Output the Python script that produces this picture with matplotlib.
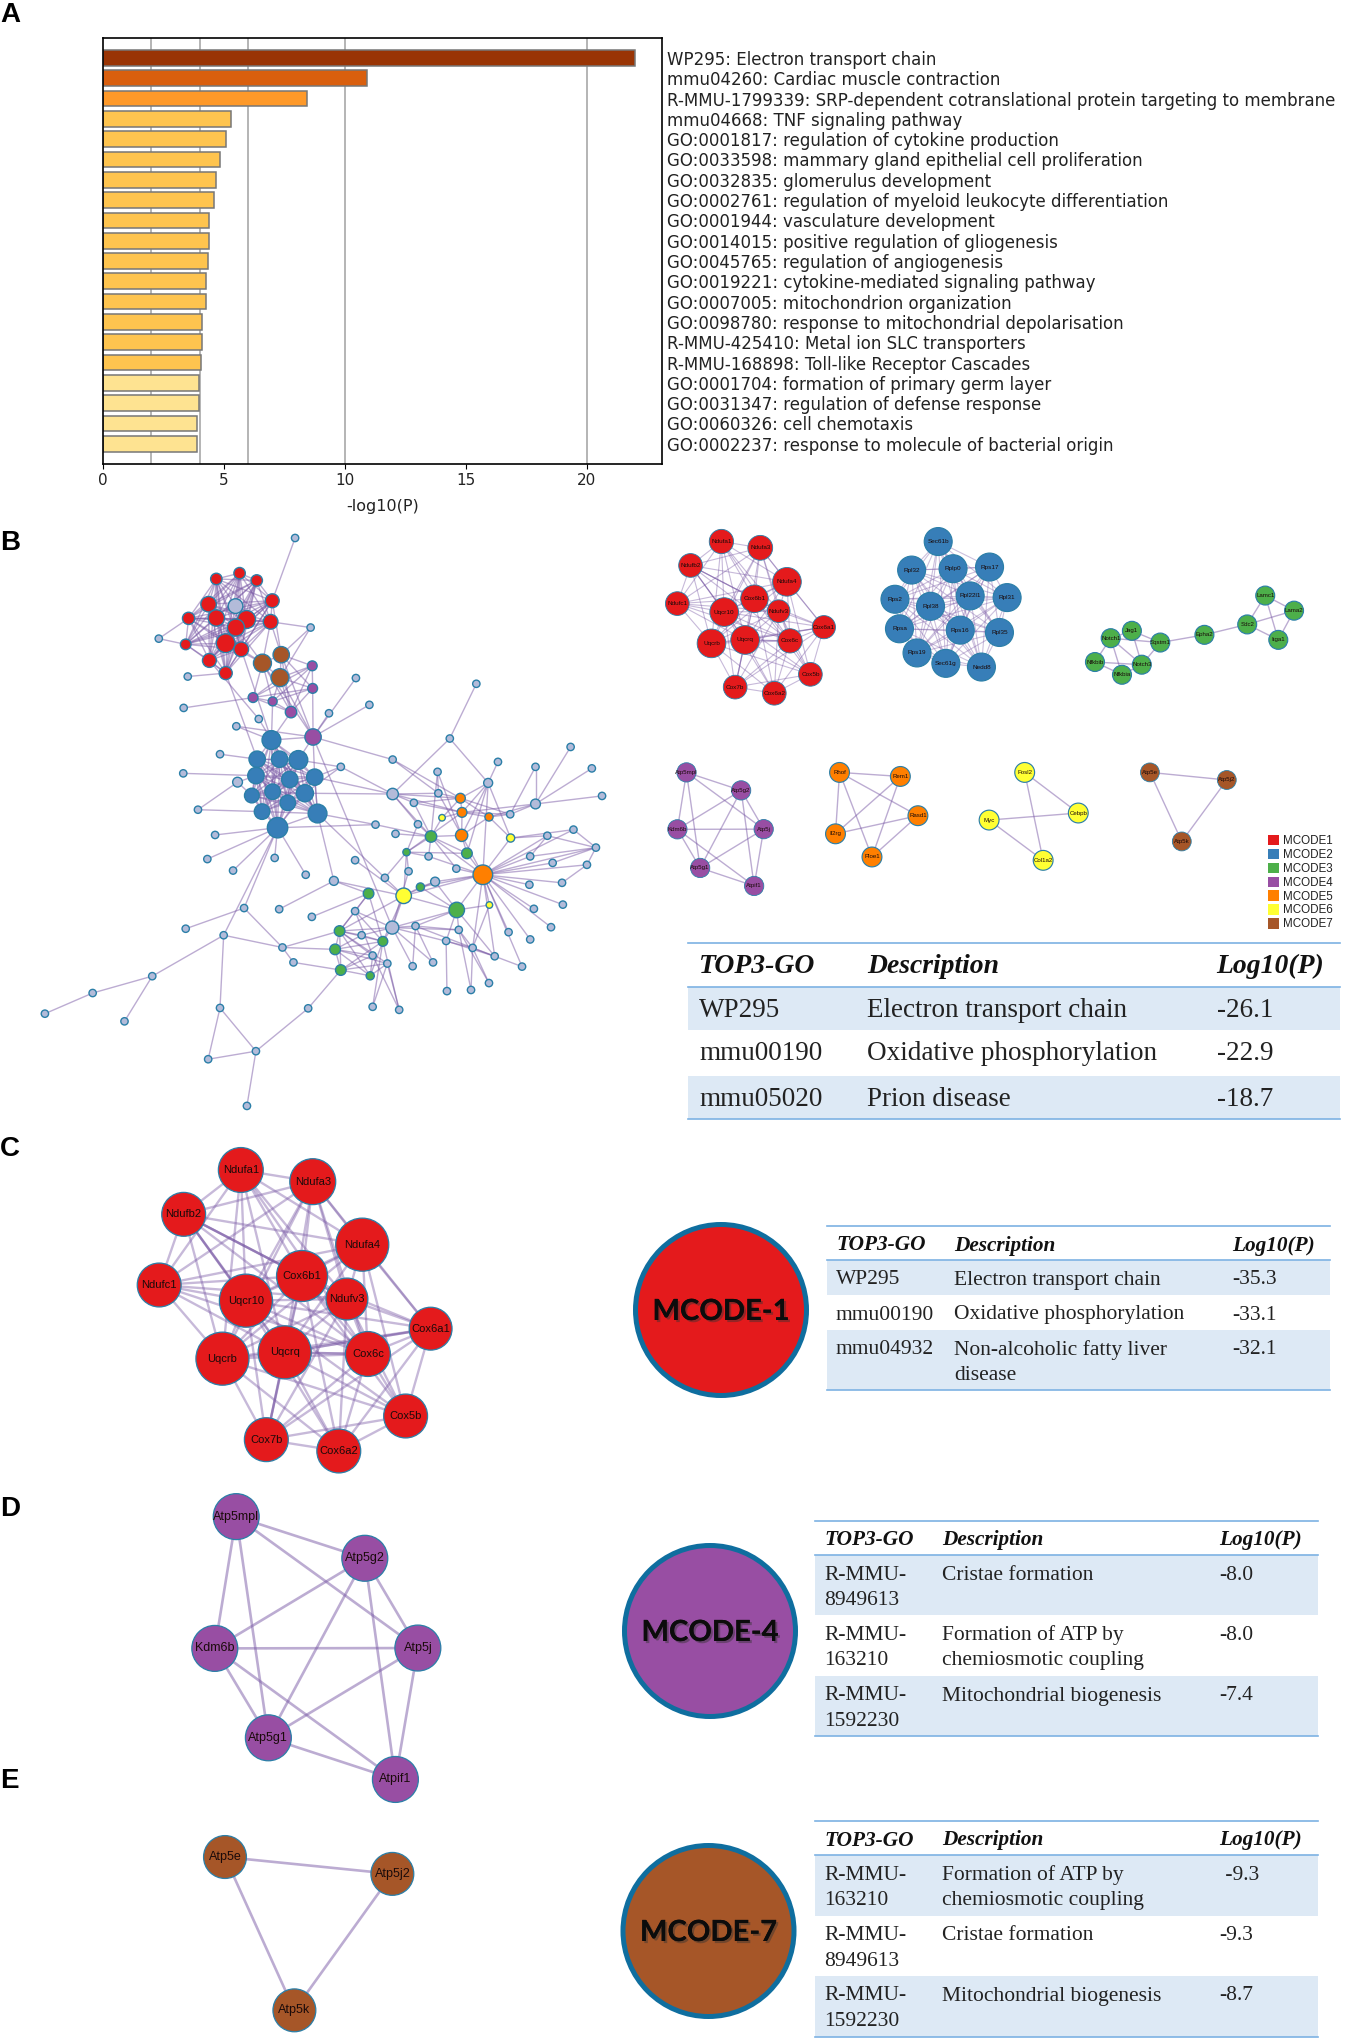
import itertools
import matplotlib
matplotlib.use('Agg')
import matplotlib.pyplot as plt
import matplotlib.patheffects as pe
from matplotlib.collections import LineCollection
from matplotlib.patches import Circle, Patch, Rectangle

W, H = 1346, 2043
SERIF = 'Liberation Serif'
SANS = 'Liberation Sans'
EDGE = '#7a5aa6'
RING = '#2b7fa8'
COLORS = {'R': '#e41a1c', 'B': '#377eb8', 'G': '#4daf4a', 'P': '#984ea3',
          'O': '#ff7f00', 'Y': '#ffff33', 'W': '#a65628', 'n': '#b3bbd9'}

# panel A
terms = ['WP295: Electron transport chain', 'mmu04260: Cardiac muscle contraction',
         'R-MMU-1799339: SRP-dependent cotranslational protein targeting to membrane',
         'mmu04668: TNF signaling pathway', 'GO:0001817: regulation of cytokine production',
         'GO:0033598: mammary gland epithelial cell proliferation', 'GO:0032835: glomerulus development',
         'GO:0002761: regulation of myeloid leukocyte differentiation', 'GO:0001944: vasculature development',
         'GO:0014015: positive regulation of gliogenesis', 'GO:0045765: regulation of angiogenesis',
         'GO:0019221: cytokine-mediated signaling pathway', 'GO:0007005: mitochondrion organization',
         'GO:0098780: response to mitochondrial depolarisation', 'R-MMU-425410: Metal ion SLC transporters',
         'R-MMU-168898: Toll-like Receptor Cascades', 'GO:0001704: formation of primary germ layer',
         'GO:0031347: regulation of defense response', 'GO:0060326: cell chemotaxis',
         'GO:0002237: response to molecule of bacterial origin']
logp = [22.0, 10.9, 8.45, 5.3, 5.1, 4.85, 4.65, 4.6, 4.4, 4.4, 4.35, 4.25, 4.25, 4.1, 4.1, 4.05, 3.95, 3.95, 3.9, 3.9]
bar_colors = ['#993404', '#d95f0e', '#fe9929'] + ['#fec44f'] * 13 + ['#fee391'] * 4
grid_x = [2, 4, 6, 10, 20]

# panel B main network, layout units from the picture
main_nodes = {
    'R': [(530,154,14),(587,139,14),(629,158,14),(511,220,19),(667,211,17),(530,256,20),(604,260,22),(462,257,15),
          (663,266,18),(578,281,21),(455,325,13),(553,322,23),(591,338,18),(513,367,17),(553,400,16)],
    'W': [(643,374,22),(689,352,20),(686,412,22)],
    'P': [(765,381,12),(766,440,12),(620,464,12),(668,474,11),(713,502,14),(767,567,20)],
    'B': [(665,575,23),(630,625,20),(685,625,20),(731,627,23),(627,668,20),(710,678,20),(771,672,20),(617,720,18),
          (668,710,19),(747,714,21),(705,739,19),(642,762,19),(778,767,23),(680,804,25)],
    'G': [(1056,827,14),(996,868,9),(1144,871,13),(1030,959,10),(903,976,13),(1119,1019,19),(832,1074,13),(821,1122,13),
          (938,1101,12),(835,1176,13),(907,1191,10)],
    'O': [(1128,727,12),(1132,764,12),(1198,776,10),(1131,824,15),(1183,927,24)],
    'Y': [(1083,778,8),(1251,831,10),(989,982,19),(1199,1006,8)],
    'n': [(723,47,9),(389,310,9),(761,281,9),(460,409,9),(872,413,9),(450,491,9),(1167,428,9),(905,483,9),(806,505,9),
          (634,520,9),(579,539,9),(1102,571,9),(539,612,9),(835,645,9),(962,626,9),(1220,632,9),(1072,658,9),(1312,645,9),
          (1398,593,9),(1450,649,9),(1475,721,9),(449,662,9),(1196,687,11),(962,716,14),(1074,714,9),(1014,739,9),
          (1312,742,12),(1250,769,9),(485,757,9),(920,796,9),(1024,795,9),(527,823,9),(969,820,9),(1405,809,9),(1341,825,9),
          (1460,856,9),(508,886,9),(673,883,9),(1050,879,9),(1299,879,9),(1354,896,9),(1438,901,9),(571,916,9),(870,889,9),
          (1118,911,9),(1001,918,9),(749,927,9),(818,943,11),(943,935,9),(1066,945,11),(1297,953,9),(1377,948,9),(1379,1005,9),
          (684,1017,9),(598,1014,9),(764,1037,9),(870,1022,9),(1308,1016,9),(1018,1061,9),(961,1065,16),(1350,1064,9),
          (455,1068,9),(886,1085,9),(1124,1071,9),(1246,1077,9),(548,1085,9),(1093,1100,9),(1299,1096,9),(692,1117,9),
          (913,1138,9),(1158,1118,9),(1212,1140,9),(719,1156,9),(949,1159,9),(1011,1166,9),(1061,1156,9),(1279,1167,9),
          (373,1192,9),(227,1236,9),(1198,1210,9),(1095,1231,9),(1154,1228,9),(110,1290,9),(305,1310,9),(539,1275,9),
          (755,1276,9),(913,1272,9),(978,1280,9),(627,1388,9),(510,1409,9),(605,1531,9),(582,685,12),(577,225,18)],
}
main_edges = """n0-R4 n1-R7 n1-R10 n2-W1 n2-W2 n2-R8 n3-R14 n5-P2 n4-P5 n7-P5 n8-P5 n6-n11 n9-B0 n9-R13 n10-B0 n10-P5 R14-B1 R12-B0
W0-P2 W0-P3 W0-P4 W1-P0 W1-P1 W2-P0 W2-P1 W2-P2 W2-P3 W2-P4 W2-P5 W1-P4 W0-P5 W1-P5 R11-W0 R12-W0 R8-W1 R8-W0 R9-W0 R4-W1
P1-P5 P5-B0 P4-B0 P3-B0 P5-B3 P5-B6 P5-n14 P5-n59 n12-B1 n13-B3 n13-B6 n13-B9 n13-n23 n21-B4 n91-B4 n91-B7 n91-n28 n28-B11
n31-B13 n36-B13 n42-B13 n37-B13 n46-B13 n54-B13 n65-B13 B6-n23 B9-n23 B13-n29 B12-n29 B12-n47 B12-n48 B6-B12
n47-n53 n47-G4 n47-Y2 n11-n23 n11-n22 n14-n24 n14-O0 n23-n24 n23-O0 n23-n25 n23-n30 n23-G0 n23-O1
n16-n24 n16-G0 n16-O3 n24-O3 n24-O0 n25-O0 n25-G0 n25-O1 n22-n15 n22-O0 n22-O1 n22-O3 n22-G2 n22-O4
n26-n17 n26-n18 n26-n19 n26-n20 n26-n27 n26-O2 n26-O1 n17-n27 n27-O1 n27-O2 n27-O0 Y0-O1 Y0-O0 Y0-G0 Y1-O2 Y1-n34 Y1-O4 Y1-n33 Y1-n22
O2-O0 O2-O1 O2-O3 O3-O1 O1-O0 O3-G2 O3-G0 O3-O4 G2-O4 G2-G0 G0-G1 G0-n29 G0-n32 G0-n30 G0-n38 G0-O4 G1-n30 G1-n38 G1-G2 G1-n48 G1-Y2 G1-n45 G1-O1
n38-O4 n44-O4 n44-G0 n49-O4 n49-Y2 n49-G3 G3-Y2 G3-O4 G3-G5 Y2-O4 Y2-G5 Y2-n48 Y2-n59 Y2-n43 G4-n56 Y2-G8 Y2-G6 n45-n59 G5-O4 G5-n58 G5-Y3 Y3-O4 Y3-n70
G5-n49 G5-n63 G5-n66 G5-n59 G5-n71 O4-n39 O4-n40 O4-n35 O4-n41 O4-n50 O4-n51 O4-n52 O4-n57 O4-n60 O4-n64 O4-n67 O4-n76 O4-n71 O4-n70 O4-n34 O4-n33
n41-n35 n35-n33 n35-n34 n35-n39 n51-n41 n40-n35 n34-n39 n59-n58 n59-n63 n59-n62 n59-G8 n59-n74 n59-n75 n59-n70 n59-G6 n59-n56 n58-n74 n58-n63 n58-n71
n63-n70 n66-n71 n70-n71 n70-n79 n66-n80 n63-n81 n70-n81 n71-n76 n63-n79 n58-n75 n56-G6 n56-G8 n56-n69 n62-G8 G6-n62 G7-n62
G8-n86 G8-n87 n73-n87 n69-n87 n73-n86 G4-G6 G4-G8 n55-G4 n68-G6 n68-G7 n68-n72 n68-n54 n68-n65 n72-G9 n54-n61 n65-n77 n65-n84
n77-n78 n77-n83 n78-n82 n84-n88 n84-n89 n89-n88 n88-n90 n88-n85 n85-G9 n69-G6 n69-G7 n69-G9 n69-G10 n73-G6 n73-G9 n73-G10 n73-G7""".split()
main_cliques = [('R', range(15)), ('W', range(3)), ('P', range(5)), ('B', range(14)), ('G', range(6, 11))]

# MCODE networks, layout units from the picture
m1_names = ['Ndufa1','Ndufa3','Ndufb2','Ndufa4','Ndufc1','Cox6b1','Ndufv3','Uqcr10','Uqcrq','Uqcrb','Cox6c','Cox6a1','Cox5b','Cox7b','Cox6a2']
m1_x = [472,613,360,710,312,592,680,482,558,436,721,844,795,522,664]
m1_y = [150,185,283,374,495,468,537,542,697,716,702,626,888,959,993]
m1_r = [44,45,43,52,43,50,41,52,52,52,44,42,43,43,43]
# long pairs that are not drawn in the reference, and the few darker ones
m1_absent = [(0,11),(0,12),(0,13),(0,14),(1,12),(1,13),(1,14),(2,11),(2,12),(2,13),(2,14),(3,13),(3,14),(4,11),(4,12),(4,13),(4,14)]
m1_strong = [(2,5),(2,7),(8,13),(8,10),(8,11)]

m2_names = ['Sec61b','Rpl32','Rplp0','Rps17','Rps2','Rpl38','Rpl22l1','Rpl31','Rpsa','Rps16','Rpl35','Rps19','Sec61g','Nedd8']
m2_x = [662,603,695,776,566,645,733,815,576,711,798,615,679,758]
m2_y = [94,179,175,170,266,287,256,261,354,358,365,426,457,468]

m3_names = ['Lamc1','Lama2','Sdc2','Itga1','Epha2','Jag1','Notch1','Sqstm1','Nfkbib','Notch3','Nfkbia']
m3_x = [1388,1452,1348,1417,1253,1092,1045,1155,1010,1114,1070]
m3_y = [255,300,341,387,372,360,382,395,453,461,491]
m3_edges = [(0,1),(0,2),(0,3),(1,2),(1,3),(2,3),(2,4),(4,7),(5,6),(5,7),(5,9),(6,7),(6,8),(6,9),(6,10),(7,9),(8,9),(8,10),(9,10)]

m4_names = ['Atp5mpl','Atp5g2','Kdm6b','Atp5j','Atp5g1','Atpif1']
m4_x = [463,715,421,819,526,775]
m4_y = [102,218,469,468,718,834]
m4_edges = [(0,1),(0,2),(0,3),(0,4),(1,2),(1,3),(1,4),(1,5),(2,3),(2,4),(2,5),(3,4),(3,5),(4,5)]

m5_names = ['Rhof','Rem1','Rasd1','Il2rg','Ploe1']
m5_x = [443,578,617,434,515]
m5_y = [782,794,911,965,1034]
m5_edges = [(0,1),(0,2),(0,3),(0,4),(1,3),(1,4),(2,3),(2,4)]

m6_names = ['Fosl2','Cebpb','Myc','Col1a2']
m6_x = [854,973,775,895]
m6_y = [782,903,924,1044]
m6_edges = [(0,1),(0,3),(2,1),(2,3)]

m7_names = ['Atp5e','Atp5j2','Atp5k']
m7_x = [441,769,577]
m7_y = [1050,1097,1477]

legend_labels = ['MCODE1','MCODE2','MCODE3','MCODE4','MCODE5','MCODE6','MCODE7']
legend_keys = ['R','B','G','P','O','Y','W']

# tables
header = ['TOP3-GO', 'Description', 'Log10(P)']
table_b = [['WP295','Electron transport chain','-26.1'],['mmu00190','Oxidative phosphorylation','-22.9'],['mmu05020','Prion disease','-18.7']]
table_c = [['WP295','Electron transport chain','-35.3'],['mmu00190','Oxidative phosphorylation','-33.1'],['mmu04932','Non-alcoholic fatty liver\ndisease','-32.1']]
table_d = [['R-MMU-\n8949613','Cristae formation','-8.0'],['R-MMU-\n163210','Formation of ATP by\nchemiosmotic coupling','-8.0'],['R-MMU-\n1592230','Mitochondrial biogenesis','-7.4']]
table_e = [['R-MMU-\n163210','Formation of ATP by\nchemiosmotic coupling',' -9.3'],['R-MMU-\n8949613','Cristae formation','-9.3'],['R-MMU-\n1592230','Mitochondrial biogenesis','-8.7']]

fig = plt.figure(figsize=(W / 100, H / 100), dpi=100, facecolor='white')
ax = fig.add_axes([0, 0, 1, 1])
ax.set_xlim(0, W)
ax.set_ylim(H, 0)
ax.axis('off')


# ---- A: bars
bax = fig.add_axes([103 / W, 1 - 463.5 / H, 559 / W, 425.5 / H])
ypos = list(range(len(terms)))
for g in grid_x:
    bax.axvline(g, color='#b4b4b4', lw=1.4, zorder=1)
bax.barh(ypos, logp, height=0.77, color=bar_colors, edgecolor='#777777', lw=1.1, zorder=2)
bax.set_xlim(0, 23.1)
bax.set_ylim(19.97, -0.98)
bax.set_xticks([0, 5, 10, 15, 20])
bax.yaxis.tick_right()
bax.set_yticks(ypos)
bax.set_yticklabels(terms, fontsize=12.0, color='#222222')
bax.tick_params(axis='y', length=0, pad=3.6)
bax.tick_params(axis='x', labelsize=11, length=3.5, labelcolor='#222222')
bax.set_xlabel('-log10(P)', fontsize=11.5, color='#222222', labelpad=8)
for s in bax.spines.values():
    s.set_linewidth(1.2)


# ---- network helpers
def draw_net(names, xs, ys, rs, edges, tf, color, fs, lw=1.0, alpha=0.5):
    # tf = (x offset, x scale, y offset, y scale, radius scale)
    x0, sx, y0, sy, sr = tf
    pts = [(x0 + x * sx, y0 + y * sy) for x, y in zip(xs, ys)]
    segs = [(pts[a], pts[b]) for a, b in edges]
    ax.add_collection(LineCollection(segs, colors=EDGE, linewidths=lw, alpha=alpha, zorder=2))
    for (px, py), r, name in zip(pts, rs, names):
        ax.add_patch(Circle((px, py), r * sr, fc=color, ec=RING, lw=max(0.6, 1.2 * sr + 0.3), zorder=3))
        ax.text(px, py, name, ha='center', va='center', fontsize=fs, family=SANS, color='#1a0a0a', zorder=4)


def all_pairs(n):
    return list(itertools.combinations(range(n), 2))


m1_edges = [p for p in all_pairs(15) if p not in m1_absent] + m1_strong

# ---- B: big network
mx, my = (lambda v: v / 2.45), (lambda v: 520 + v / 2.613)
def node_xy(key):
    g, i = key[0], int(key[1:])
    nx, ny, _ = main_nodes[g][i]
    return mx(nx), my(ny)

segs = [(node_xy(a), node_xy(b)) for a, b in (e.split('-') for e in main_edges)]
for g, idx in main_cliques:
    segs += [(node_xy(g + str(i)), node_xy(g + str(j))) for i, j in itertools.combinations(idx, 2)]
ax.add_collection(LineCollection(segs, colors=EDGE, linewidths=1.0, alpha=0.5, zorder=2))
for g, nodes in main_nodes.items():
    for nx, ny, nr in nodes:
        ax.add_patch(Circle((mx(nx), my(ny)), nr / 2.45, fc=COLORS[g], ec=RING, lw=1.0, zorder=3))

# small MCODE pictures top right; zoom-units 2.22 wide, 2.98 high
mini = (640, 1 / 2.22, 510, 1 / 2.98, 1 / 2.22)
c_to_mini = (721.5 - 0.54 * 241, 0.54 / 1.96, 541.5 - 0.54 * 1170 + 0.54 * 1120, 0.54 / 3.0, 0.54 / 1.96)
draw_net(m1_names, m1_x, m1_y, m1_r, m1_edges, c_to_mini, COLORS['R'], 4.6, lw=0.8, alpha=0.42)
draw_net(m2_names, m2_x, m2_y, [31] * 14, all_pairs(14), mini, COLORS['B'], 4.6, lw=0.8, alpha=0.38)
draw_net(m3_names, m3_x, m3_y, [21] * 11, m3_edges, mini, COLORS['G'], 4.4)
d_to_mini = (686.4 - 0.425 * 236, 0.425 / 1.96, 772.4 - 0.432 * (1480 + 102 / 2.785) + 0.432 * 1480, 0.432 / 2.785, 0.42 / 1.96)
draw_net(m4_names, m4_x, m4_y, [45] * 6, m4_edges, d_to_mini, COLORS['P'], 4.4)
draw_net(m5_names, m5_x, m5_y, [22] * 5, m5_edges, mini, COLORS['O'], 4.4)
draw_net(m6_names, m6_x, m6_y, [22] * 4, m6_edges, mini, COLORS['Y'], 4.4)
e_to_mini = (640 + 1132 / 2.22 - 0.2344 * 441, 0.2344, 772.4 - 0.1617 * 1050, 0.1617, 0.44 / 1.96)
draw_net(m7_names, m7_x, m7_y, [42] * 3, all_pairs(3), e_to_mini, COLORS['W'], 4.4)

leg = ax.legend(handles=[Patch(fc=COLORS[k], ec='none', label=l) for k, l in zip(legend_keys, legend_labels)],
                loc='upper left', bbox_to_anchor=(1268, 835), bbox_transform=ax.transData, frameon=False,
                prop={'family': SANS, 'size': 8.4}, labelspacing=0.14, handlelength=0.95, handleheight=1.0,
                handletextpad=0.3, borderpad=0, borderaxespad=0, labelcolor='#222222')

# ---- C, D, E: enlarged networks
draw_net(m1_names, m1_x, m1_y, m1_r, m1_edges, (0, 1 / 1.96, 1120, 1 / 3.0, 1 / 1.96), COLORS['R'], 8.0, lw=1.7, alpha=0.42)
draw_net(m4_names, m4_x, m4_y, [45] * 6, m4_edges, (0, 1 / 1.96, 1480, 1 / 2.785, 1 / 1.96), COLORS['P'], 9.0, lw=1.9, alpha=0.5)
draw_net(m7_names, m7_x, m7_y, [42] * 3, all_pairs(3), (0, 1 / 1.96, 1480, 1 / 2.785, 1 / 1.96), COLORS['W'], 9.0, lw=1.9, alpha=0.5)

# ---- big discs
for cx, cy, key, lab in [(721, 1310, 'R', 'MCODE-1'), (710, 1631, 'P', 'MCODE-4'), (708.5, 1931, 'W', 'MCODE-7')]:
    ax.add_patch(Circle((cx, cy), 85.5, fc=COLORS[key], ec='#0f6e9f', lw=3.6, zorder=3))
    ax.text(cx, cy + 2, lab, ha='center', va='center', fontsize=21, family='Lato', fontweight='bold', color='#0c0c0c', zorder=4,
            path_effects=[pe.withSimplePatchShadow(offset=(1.5, -1.5), shadow_rgbFace='#333333', alpha=0.45), pe.Normal()])


# ---- tables
def draw_table(rows, x0, x1, ys, cols, fs, head_fs, first_dy, line_dy, head_dy=0):
    rule = '#7db2e3'
    for i, row in enumerate(rows):
        top, bottom = ys[i + 1], ys[i + 2]
        if i % 2 == 0:
            ax.add_patch(Rectangle((x0, top), x1 - x0, bottom - top, fc='#dde9f5', ec='none', zorder=1))
        for cx, cell in zip(cols, row):
            for j, part in enumerate(cell.split('\n')):
                ax.text(cx, top + first_dy + j * line_dy, part, family=SERIF, fontsize=fs, va='center', ha='left', color='#222222', zorder=2)
    for cx, h in zip(cols, header):
        ax.text(cx, (ys[0] + ys[1]) / 2 + head_dy, h, family=SERIF, fontsize=head_fs, fontweight='bold', fontstyle='italic', va='center', ha='left', color='#111111', zorder=2)
    for y in (ys[0], ys[1], ys[-1]):
        ax.plot([x0, x1], [y, y], color=rule, lw=1.2, zorder=2)


draw_table(table_b, 688, 1339.5, [942.7, 986.7, 1030, 1075.7, 1119.3], [699, 867, 1216.5], 19.5, 19.9, 24, 0, head_dy=2)
draw_table(table_c, 827, 1329.5, [1226, 1260, 1295, 1330, 1390], [836, 954, 1232], 15.5, 15.3, 20, 26, head_dy=2.5)
draw_table(table_d, 815, 1317.5, [1520.5, 1555, 1615, 1676, 1736], [824, 942, 1219.5], 15.5, 15.3, 20, 25.5, head_dy=2.5)
draw_table(table_e, 815, 1317.5, [1821, 1855, 1915.5, 1976, 2036.5], [824, 942, 1219.5], 15.5, 15.3, 20, 25.5, head_dy=2.5)

# panel letters
for lab, y in zip('ABCDE', [15, 543, 1149, 1509.5, 1781]):
    ax.text(0, y, lab, family=SANS, fontweight='bold', fontsize=20, va='center', ha='left', color='black', zorder=5)

fig.savefig('out.png', dpi=100, facecolor='white')
